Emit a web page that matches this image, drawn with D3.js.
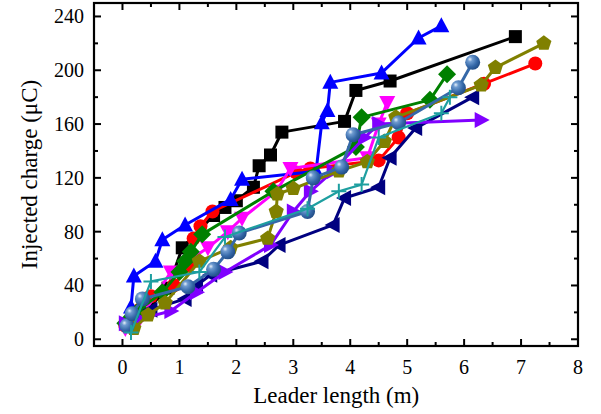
<!DOCTYPE html>
<html>
<head>
<meta charset="utf-8">
<script src="https://cdn.jsdelivr.net/npm/d3@7"></script>
<style>
  html, body { margin: 0; padding: 0; background: #fff; }
  svg { display: block; }
  text { font-family: "Liberation Serif", "Times New Roman", serif; fill: #000; }
</style>
</head>
<body>
<svg id="chart" width="601" height="414"></svg>
<script>
// Leader length (m) vs injected charge (µC) for each recorded leader
const blackSquares = [[0.15,10],[0.8,38],[1.05,68],[1.6,92],[1.8,98],[2.0,103],[2.3,113],[2.4,129],[2.6,137],[2.8,154],[3.9,162],[4.1,185],[4.7,192],[6.9,225]];
const redCircles = [[0.05,10],[0.3,22],[0.5,32],[0.9,40],[1.15,55],[1.25,75],[1.37,84],[1.58,95],[3.05,124],[3.3,127],[4.5,133],[4.85,150],[5.0,168],[6.35,190],[7.25,205]];
const blueUp = [[0.15,24],[0.2,47],[0.58,58],[0.7,74],[1.1,85],[1.9,104],[2.1,119],[3.4,125],[3.5,161],[3.6,170],[3.65,191],[4.55,198],[5.2,224],[5.6,233]];
const magentaDown = [[0.05,8],[0.3,15],[0.85,50],[1.5,68],[1.85,80],[2.1,90],[2.7,110],[2.95,127],[4.3,135],[4.5,160],[4.65,176]];
const greenDiamonds = [[0.05,12],[0.3,22],[0.7,35],[1.0,50],[1.1,58],[1.2,65],[1.4,78],[2.65,110],[4.1,143],[4.2,165],[5.4,178],[5.7,197]];
const navyLeft = [[0.1,10],[0.5,22],[1.1,30],[1.3,40],[1.55,48],[2.45,58],[2.75,70],[3.7,85],[3.9,105],[4.5,113],[4.7,135],[5.15,157],[6.15,180]];
const purpleRight = [[0.05,12],[0.3,15],[0.85,21],[1.3,35],[1.8,50],[2.6,70],[3.0,95],[3.3,110],[3.7,125],[4.25,150],[4.5,160],[6.3,163]];
const olivePentagons = [[0.2,8],[0.45,18],[0.75,27],[1.35,58],[1.9,68],[2.55,75],[2.7,95],[2.72,108],[3.0,112],[3.8,125],[4.3,132],[4.6,147],[4.8,165],[6.3,189],[6.55,202],[7.4,220]];
const blueSpheres = [[0.08,10],[0.17,19],[0.35,30],[1.15,39],[1.6,52],[1.85,65],[2.05,79],[3.25,95],[3.35,120],[3.85,128],[4.05,152],[4.85,161],[5.9,187],[6.15,206]];
const tealCrosses = [[0.15,5],[0.5,43],[1.35,50],[1.8,76],[3.25,97],[3.8,110],[4.2,115],[4.5,150],[5.6,168],[5.75,180]];

const xTicks = [0,1,2,3,4,5,6,7,8];
const yTicks = [0,40,80,120,160,200,240];
const xLabel = "Leader length (m)";
const yLabel = "Injected charge (\u03bcC)";

const series = [
  { data: blackSquares,   color: "#000000", shape: "square" },
  { data: redCircles,     color: "#ff0000", shape: "circle" },
  { data: blueUp,         color: "#0000ff", shape: "triUp" },
  { data: magentaDown,    color: "#ff00ff", shape: "triDown" },
  { data: greenDiamonds,  color: "#008000", shape: "diamond" },
  { data: navyLeft,       color: "#000080", shape: "triLeft" },
  { data: purpleRight,    color: "#8000ff", shape: "triRight" },
  { data: olivePentagons, color: "#808000", shape: "pentagon" },
  { data: blueSpheres,    color: "#3568a8", shape: "sphere" },
  { data: tealCrosses,    color: "#1e9fa0", shape: "cross" }
];

const svg = d3.select("#chart");
const L = 94, R = 578, T = 3, B = 346;

const x = d3.scaleLinear().domain([-0.5, 8]).range([L, R]);
const y = d3.scaleLinear().domain([-5, 250]).range([B, T]);

// sphere shading
const defs = svg.append("defs");
const grad = defs.append("radialGradient").attr("id", "sphereGrad")
  .attr("cx", "35%").attr("cy", "35%").attr("r", "65%").attr("fx", "32%").attr("fy", "30%");
grad.append("stop").attr("offset", "0%").attr("stop-color", "#e8f0fa");
grad.append("stop").attr("offset", "25%").attr("stop-color", "#6f9bd0");
grad.append("stop").attr("offset", "70%").attr("stop-color", "#3568a8");
grad.append("stop").attr("offset", "100%").attr("stop-color", "#24508a");

defs.append("clipPath").attr("id", "plotClip")
  .append("rect").attr("x", L).attr("y", T).attr("width", R - L).attr("height", B - T);

const plot = svg.append("g").attr("clip-path", "url(#plotClip)");

function markerPath(shape) {
  const s = 7.5;
  switch (shape) {
    case "square": return `M${-s+1},${-s+1}H${s-1}V${s-1}H${-s+1}Z`;
    case "triUp": return `M0,${-s-1}L${s+0.5},${s-1}L${-s-0.5},${s-1}Z`;
    case "triDown": return `M0,${s+1}L${s+0.5},${-s+1}L${-s-0.5},${-s+1}Z`;
    case "triLeft": return `M${-s-1},0L${s-1},${-s-0.5}L${s-1},${s+0.5}Z`;
    case "triRight": return `M${s+1},0L${-s+1},${-s-0.5}L${-s+1},${s+0.5}Z`;
    case "diamond": return `M0,${-s-1.5}L${s+1.5},0L0,${s+1.5}L${-s-1.5},0Z`;
    case "pentagon": {
      const pts = d3.range(5).map(i => {
        const a = -Math.PI / 2 + i * 2 * Math.PI / 5;
        return [Math.cos(a) * (s + 0.5), Math.sin(a) * (s + 0.5)];
      });
      return "M" + pts.map(p => p.join(",")).join("L") + "Z";
    }
    case "cross": return `M${-s},0H${s}M0,${-s}V${s}`;
  }
  return null;
}

const line = d3.line().x(d => x(d[0])).y(d => y(d[1]));

series.forEach(sr => {
  const g = plot.append("g");
  g.append("path").attr("d", line(sr.data))
    .attr("fill", "none").attr("stroke", sr.color)
    .attr("stroke-width", sr.shape === "cross" ? 2.2 : 3)
    .attr("stroke-linejoin", "round");
  const m = g.selectAll(".m").data(sr.data).enter();
  if (sr.shape === "circle") {
    m.append("circle").attr("cx", d => x(d[0])).attr("cy", d => y(d[1]))
      .attr("r", 7).attr("fill", sr.color);
  } else if (sr.shape === "sphere") {
    m.append("circle").attr("cx", d => x(d[0])).attr("cy", d => y(d[1]))
      .attr("r", 7.5).attr("fill", "url(#sphereGrad)");
  } else if (sr.shape === "cross") {
    m.append("path").attr("transform", d => `translate(${x(d[0])},${y(d[1])})`)
      .attr("d", markerPath("cross")).attr("stroke", sr.color)
      .attr("stroke-width", 2).attr("fill", "none");
  } else {
    m.append("path").attr("transform", d => `translate(${x(d[0])},${y(d[1])})`)
      .attr("d", markerPath(sr.shape)).attr("fill", sr.color);
  }
});

// frame and inward ticks on all four sides
const axes = svg.append("g");
const xMinor = d3.range(-0.5, 8.01, 0.5).filter(v => !xTicks.includes(v));
const yMinor = d3.range(0, 250, 20).filter(v => !yTicks.includes(v));
const majorLen = 7, minorLen = 4;

function tickLines(vals, len) {
  vals.forEach(v => {
    axes.append("line").attr("x1", x(v)).attr("x2", x(v)).attr("y1", B).attr("y2", B - len);
    axes.append("line").attr("x1", x(v)).attr("x2", x(v)).attr("y1", T).attr("y2", T + len);
  });
}
function tickLinesY(vals, len) {
  vals.forEach(v => {
    axes.append("line").attr("y1", y(v)).attr("y2", y(v)).attr("x1", L).attr("x2", L + len);
    axes.append("line").attr("y1", y(v)).attr("y2", y(v)).attr("x1", R).attr("x2", R - len);
  });
}
tickLines(xTicks, majorLen);
tickLines(xMinor, minorLen);
tickLinesY(yTicks, majorLen);
tickLinesY(yMinor, minorLen);
axes.selectAll("line").attr("stroke", "#000").attr("stroke-width", 2);

axes.append("rect").attr("x", L).attr("y", T).attr("width", R - L).attr("height", B - T)
  .attr("fill", "none").attr("stroke", "#000").attr("stroke-width", 2.2);

// tick labels
svg.append("g").selectAll("text").data(xTicks).enter().append("text")
  .attr("x", d => x(d)).attr("y", 374).attr("text-anchor", "middle")
  .attr("font-size", 20).text(d => d);
svg.append("g").selectAll("text").data(yTicks).enter().append("text")
  .attr("x", 84).attr("y", d => y(d) + 7).attr("text-anchor", "end")
  .attr("font-size", 20).text(d => d);

// axis titles
svg.append("text").attr("x", x(4) - 14).attr("y", 403).attr("text-anchor", "middle")
  .attr("font-size", 23).text(xLabel);
svg.append("text").attr("transform", `translate(37,${(T + B) / 2}) rotate(-90)`)
  .attr("text-anchor", "middle").attr("font-size", 23).text(yLabel);
</script>
</body>
</html>
